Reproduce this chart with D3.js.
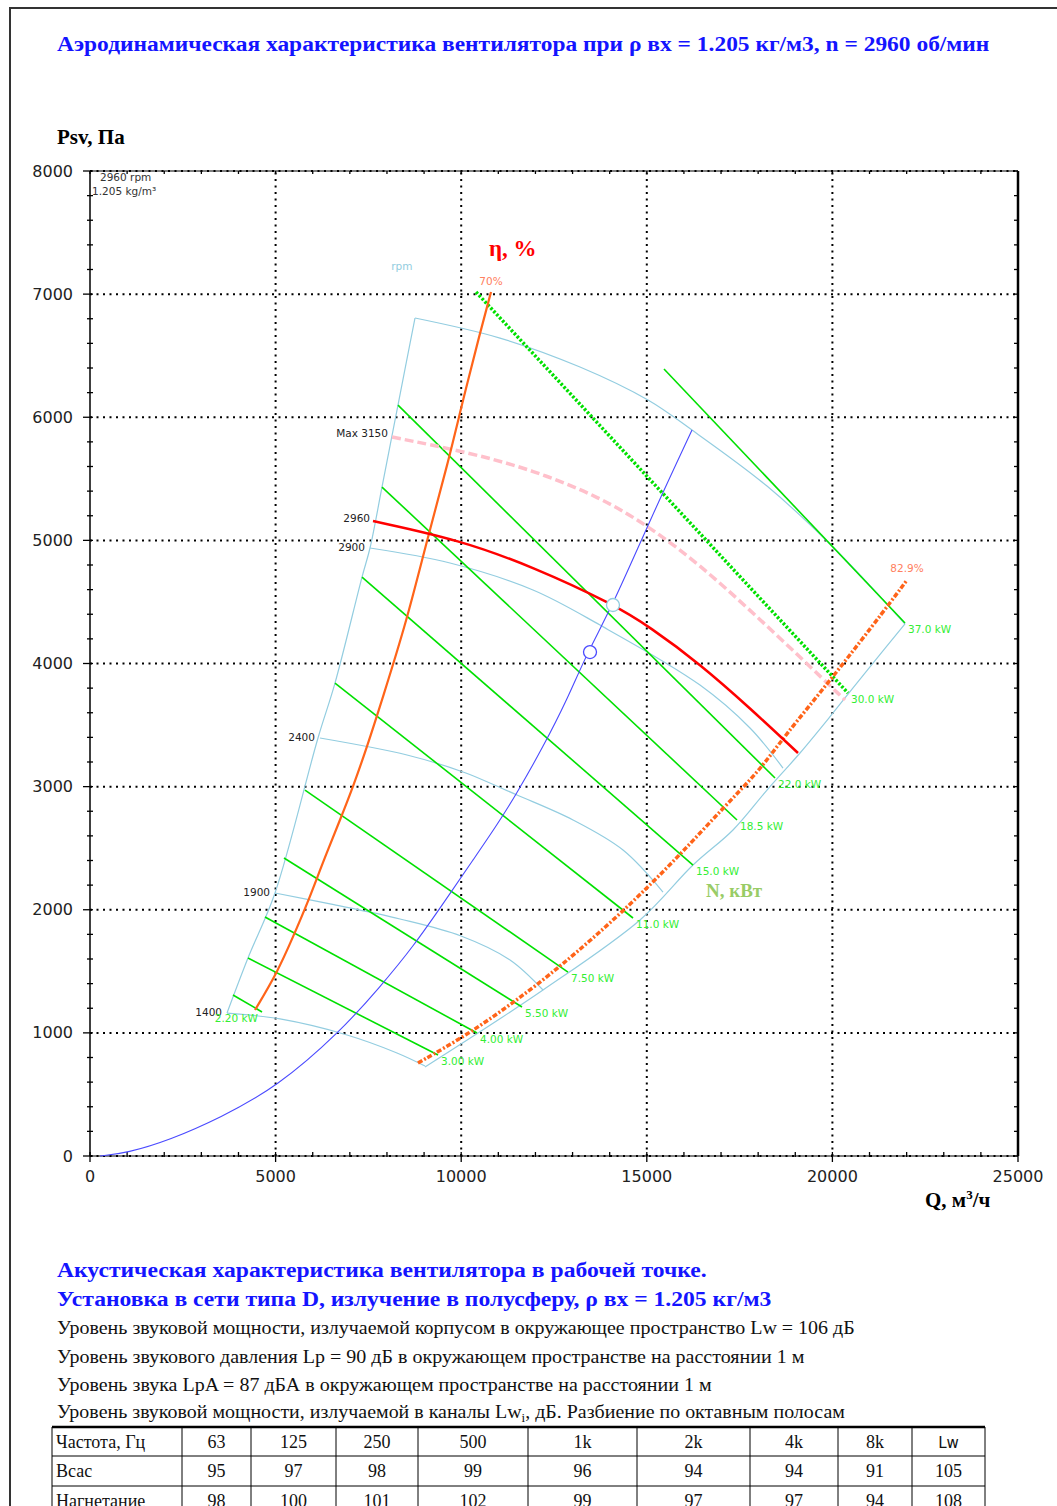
<!DOCTYPE html>
<html>
<head>
<meta charset="utf-8">
<script src="https://cdn.jsdelivr.net/npm/d3@7"></script>
<style>
  body { margin: 0; background: #fff; }
  svg { display: block; }
</style>
</head>
<body>
<svg id="chart" width="1057" height="1506"></svg>
<script>
// ---- data (Q in m3/h, P in Pa) ----
const xTicks = [0, 5000, 10000, 15000, 20000, 25000];
const yTicks = [0, 1000, 2000, 3000, 4000, 5000, 6000, 7000, 8000];

// light blue rpm curves
const rpm1400 = [[3691, 1161], [5119, 1113], [6923, 983], [8270, 837], [9025, 731]];
const rpm1900 = [[4984, 2136], [6466, 2047], [8351, 1925], [9995, 1787], [11315, 1592], [12204, 1348]];
const rpm2400 = [[6196, 3395], [8540, 3257], [10048, 3119], [11503, 2932], [13012, 2729], [14359, 2485], [15436, 2144]];
const rpm2900 = [[7543, 4938], [9698, 4816], [11934, 4597], [13739, 4312], [16433, 3825], [17780, 3476], [18669, 3151]];
const rpm3400 = [[8755, 6806], [11045, 6643], [13200, 6408], [15032, 6140], [16218, 5896], [18238, 5441], [20016, 4946], [21956, 4321]];
const rpmLabels = ["1400", "1900", "2400", "2900", ""];

// envelope side boundaries
const leftBound = [[3691, 1161], [4256, 1608], [4984, 2136], [6142, 3395], [6600, 3841], [7328, 4702], [7543, 4938], [7866, 5433], [8297, 6099], [8755, 6806]];
const rightBound = [[21956, 4321], [21094, 4004], [20016, 3598], [19127, 3273], [18238, 2972], [17322, 2648], [16245, 2363], [14817, 1917], [12204, 1348], [9025, 723]];

// working speed and max speed
const rpm2960 = [[7624, 5157], [9968, 5003], [11934, 4784], [14089, 4483], [15086, 4296], [16433, 3996], [17780, 3638], [19073, 3273]];
const rpmMax = [[8136, 5839], [10156, 5718], [11934, 5571], [13739, 5352], [15086, 5108], [16433, 4800], [17780, 4434], [19127, 4053], [20340, 3703]];

// efficiency lines
const eta70 = [[4445, 1186], [5038, 1486], [5469, 1779], [5873, 2063], [6277, 2388], [6735, 2729], [7085, 2997], [7462, 3322], [7866, 3703], [8540, 4353], [9079, 5003], [9644, 5628], [10048, 6140], [10506, 6684], [10803, 7017]];
const eta829 = [[8836, 755], [10156, 983], [11395, 1243], [12662, 1535], [14359, 1982], [15894, 2445], [17053, 2826], [18050, 3135], [18669, 3395], [20016, 3890], [21471, 4459], [22010, 4678]];

// system curve and operating points
const systemCurve = [[269, 0], [997, 24], [2155, 130], [3502, 309], [5038, 560], [6735, 1007], [7813, 1373], [8702, 1697], [9617, 2095], [10318, 2404], [10964, 2688], [11503, 2948], [12204, 3322], [12850, 3703], [13389, 4085], [14089, 4475], [15086, 5165], [16218, 5896]];
const workPoint = [14089, 4475];
const reqPoint = [13470, 4093];

// motor power lines
const powerLabels = ["2.20 kW", "3.00 kW", "4.00 kW", "5.50 kW", "7.50 kW", "11.0 kW", "15.0 kW", "18.5 kW", "22.0 kW", "30.0 kW", "37.0 kW"];
const powerLines = [
  [[3852, 1308], [4634, 1170]],
  [[4256, 1608], [9375, 820]],
  [[4714, 1941], [10426, 999]],
  [[5226, 2420], [11638, 1210]],
  [[5792, 2972], [12877, 1494]],
  [[6600, 3841], [14628, 1933]],
  [[7328, 4702], [16245, 2363]],
  [[7866, 5433], [17430, 2729]],
  [[8297, 6099], [18454, 3070]],
  [[10399, 7017], [20420, 3760]],
  [[15463, 6392], [21956, 4329]]
];

// acoustic table
const freqHeader = ["Частота, Гц", "63", "125", "250", "500", "1k", "2k", "4k", "8k", "Lw"];
const suctionRow = ["Всас", "95", "97", "98", "99", "96", "94", "94", "91", "105"];
const dischargeRow = ["Нагнетание", "98", "100", "101", "102", "99", "97", "97", "94", "108"];

// ---- drawing ----
const svg = d3.select("#chart");
const SERIF = "'Liberation Serif', 'Times New Roman', serif";
const SANS = "'DejaVu Sans', Verdana, sans-serif";

const x = d3.scaleLinear().domain([0, 25000]).range([90, 1018]);
const y = d3.scaleLinear().domain([0, 8000]).range([1156, 171]);

// page frame
svg.append("path")
  .attr("d", "M10,1506 L10,8 L1057,8")
  .attr("fill", "none").attr("stroke", "#333").attr("stroke-width", 2);

// text squeezed to the width seen in the picture
function fitText(txt, px, py, width, size, weight, color, sub) {
  const t = svg.append("text")
    .attr("font-family", SERIF).attr("font-size", size)
    .attr("font-weight", weight).attr("fill", color);
  t.append("tspan").text(txt);
  if (sub) {
    t.append("tspan").attr("font-size", size * 0.65).attr("dy", 4).text(sub.s);
    t.append("tspan").attr("dy", -4).text(sub.rest);
  }
  const len = t.node().getComputedTextLength();
  t.attr("transform", `translate(${px},${py}) scale(${width / len},1)`);
  return t;
}

fitText("Аэродинамическая характеристика вентилятора при ρ вх = 1.205 кг/м3, n = 2960 об/мин", 57, 51, 933, 21, "bold", "#1414ff");

// grid
const grid = svg.append("g").attr("stroke", "#000").attr("stroke-width", 2).attr("stroke-dasharray", "2,4.5");
grid.selectAll(".gx").data(xTicks.slice(1, -1)).enter().append("line")
  .attr("x1", d => x(d)).attr("x2", d => x(d)).attr("y1", y(0)).attr("y2", y(8000));
grid.selectAll(".gy").data(yTicks).enter().append("line")
  .attr("x1", x(0)).attr("x2", x(25000)).attr("y1", d => y(d)).attr("y2", d => y(d));

// frame of plot
svg.append("line").attr("x1", x(0)).attr("x2", x(0)).attr("y1", y(0)).attr("y2", y(8000))
  .attr("stroke", "#000").attr("stroke-width", 1.5);
svg.append("line").attr("x1", x(0)).attr("x2", x(25000)).attr("y1", y(0)).attr("y2", y(0))
  .attr("stroke", "#000").attr("stroke-width", 1.2);
svg.append("line").attr("x1", x(0)).attr("x2", x(25000)).attr("y1", y(8000)).attr("y2", y(8000))
  .attr("stroke", "#000").attr("stroke-width", 1.2);
svg.append("line").attr("x1", x(25000)).attr("x2", x(25000)).attr("y1", y(0)).attr("y2", y(8000))
  .attr("stroke", "#000").attr("stroke-width", 2.5);

// minor ticks
const ticks = svg.append("g").attr("stroke", "#000").attr("stroke-width", 1.3);
const pMinor = d3.range(0, 8001, 200);
const qMinor = d3.range(0, 25001, 1000);
ticks.selectAll(".tl").data(pMinor).enter().append("line")
  .attr("x1", d => x(0) - (d % 1000 === 0 ? 7 : 3)).attr("x2", x(0) + 3)
  .attr("y1", d => y(d)).attr("y2", d => y(d));
ticks.selectAll(".tr").data(pMinor).enter().append("line")
  .attr("x1", x(25000) - 4).attr("x2", x(25000))
  .attr("y1", d => y(d)).attr("y2", d => y(d));
ticks.selectAll(".tb").data(qMinor).enter().append("line")
  .attr("x1", d => x(d)).attr("x2", d => x(d))
  .attr("y1", y(0) - 4).attr("y2", d => y(0) + (d % 5000 === 0 ? 6 : 1));
ticks.selectAll(".tt").data(qMinor).enter().append("line")
  .attr("x1", d => x(d)).attr("x2", d => x(d))
  .attr("y1", y(8000)).attr("y2", y(8000) + 3);

// tick labels
svg.selectAll(".yl").data(yTicks).enter().append("text")
  .attr("x", 73).attr("y", d => y(d) + 5.5).attr("text-anchor", "end")
  .attr("font-family", SANS).attr("font-size", 16).attr("fill", "#222")
  .text(d => d);
svg.selectAll(".xl").data(xTicks).enter().append("text")
  .attr("x", d => x(d)).attr("y", 1182).attr("text-anchor", "middle")
  .attr("font-family", SANS).attr("font-size", 16).attr("fill", "#222")
  .text(d => d);

// axis titles
svg.append("text").attr("x", 57).attr("y", 144)
  .attr("font-family", SERIF).attr("font-weight", "bold").attr("font-size", 21)
  .text("Psv, Па");
const qt = svg.append("text").attr("x", 925).attr("y", 1207)
  .attr("font-family", SERIF).attr("font-weight", "bold").attr("font-size", 21);
qt.append("tspan").text("Q, м");
qt.append("tspan").attr("font-size", 13).attr("dy", -8).text("3");
qt.append("tspan").attr("dy", 8).text("/ч");

const line = d3.line().x(d => x(d[0])).y(d => y(d[1])).curve(d3.curveCatmullRom);
const smooth = d3.line().x(d => x(d[0])).y(d => y(d[1])).curve(d3.curveBasis);

// envelope and rpm curves
const env = svg.append("g").attr("fill", "none").attr("stroke", "#93cde0").attr("stroke-width", 1.2);
[leftBound, rightBound].forEach(c => env.append("path").attr("d", line(c)));
const rpmCurves = [rpm1400, rpm1900, rpm2400, rpm2900, rpm3400];
rpmCurves.forEach(c => env.append("path").attr("d", line(c)));

svg.selectAll(".rl").data(rpmCurves).enter().append("text")
  .attr("x", d => x(d[0][0]) - 5).attr("y", d => y(d[0][1]) + 3)
  .attr("text-anchor", "end").attr("font-family", SANS).attr("font-size", 10.5).attr("fill", "#222")
  .text((d, i) => rpmLabels[i]);
svg.append("text").attr("x", x(8400)).attr("y", y(7230) + 4).attr("text-anchor", "middle")
  .attr("font-family", SANS).attr("font-size", 10.5).attr("fill", "#93cde0").text("rpm");

// power lines
svg.selectAll(".pw").data(powerLines).enter().append("path")
  .attr("d", d => line(d)).attr("fill", "none").attr("stroke", "#00e000")
  .attr("stroke-width", (d, i) => i === 9 ? 3.5 : 1.6)
  .attr("stroke-dasharray", (d, i) => i === 9 ? "2.5,1.8" : null);
svg.selectAll(".pl").data(powerLines).enter().append("text")
  .attr("x", (d, i) => x(d[1][0]) + (i === 0 ? -4 : 3))
  .attr("y", d => y(d[1][1]) + 10)
  .attr("text-anchor", (d, i) => i === 0 ? "end" : "start")
  .attr("font-family", SANS).attr("font-size", 10.5).attr("fill", "#33ee33")
  .text((d, i) => powerLabels[i]);

// max speed
svg.append("path").attr("d", smooth(rpmMax)).attr("fill", "none")
  .attr("stroke", "#ffc0cb").attr("stroke-width", 3.5).attr("stroke-dasharray", "9,4");
svg.append("text").attr("x", x(rpmMax[0][0]) - 4).attr("y", y(rpmMax[0][1]))
  .attr("text-anchor", "end").attr("font-family", SANS).attr("font-size", 10.5).attr("fill", "#222")
  .text("Max 3150");

// efficiency
svg.append("path").attr("d", smooth(eta70)).attr("fill", "none")
  .attr("stroke", "#ff6419").attr("stroke-width", 2.2);
svg.append("path").attr("d", smooth(eta829)).attr("fill", "none")
  .attr("stroke", "#ff6419").attr("stroke-width", 3.5).attr("stroke-dasharray", "5,2,2,2");
svg.append("text").attr("x", x(eta70[eta70.length - 1][0])).attr("y", y(eta70[eta70.length - 1][1]) - 7)
  .attr("text-anchor", "middle").attr("font-family", SANS).attr("font-size", 10.5).attr("fill", "#ff8060")
  .text("70%");
svg.append("text").attr("x", x(eta829[eta829.length - 1][0])).attr("y", y(eta829[eta829.length - 1][1]) - 8)
  .attr("text-anchor", "middle").attr("font-family", SANS).attr("font-size", 10.5).attr("fill", "#ff8060")
  .text("82.9%");

// working speed
svg.append("path").attr("d", smooth(rpm2960)).attr("fill", "none")
  .attr("stroke", "#ff0000").attr("stroke-width", 2.5);
svg.append("text").attr("x", x(rpm2960[0][0]) - 3).attr("y", y(rpm2960[0][1]) + 1)
  .attr("text-anchor", "end").attr("font-family", SANS).attr("font-size", 10.5).attr("fill", "#222")
  .text("2960");

// system curve and points
svg.append("path").attr("d", smooth(systemCurve)).attr("fill", "none")
  .attr("stroke", "#4a4aff").attr("stroke-width", 1.1);
svg.append("circle").attr("cx", x(workPoint[0])).attr("cy", y(workPoint[1])).attr("r", 6.5)
  .attr("fill", "#fff").attr("stroke", "#93cde0").attr("stroke-width", 1.3);
svg.append("circle").attr("cx", x(reqPoint[0])).attr("cy", y(reqPoint[1])).attr("r", 6.5)
  .attr("fill", "#fff").attr("stroke", "#4a4aff").attr("stroke-width", 1.3);

// corner notes and series titles
svg.append("text").attr("x", 100).attr("y", 181).attr("font-family", SANS).attr("font-size", 10.5)
  .attr("fill", "#333").text("2960 rpm");
svg.append("text").attr("x", 92).attr("y", 195).attr("font-family", SANS).attr("font-size", 10.5)
  .attr("fill", "#333").text("1.205 kg/m³");
svg.append("text").attr("x", 489).attr("y", 256).attr("font-family", SERIF).attr("font-weight", "bold")
  .attr("font-size", 23).attr("fill", "#ff0000").text("η, %");
svg.append("text").attr("x", 706).attr("y", 897).attr("font-family", SERIF).attr("font-weight", "bold")
  .attr("font-size", 19).attr("fill", "#99cc66").text("N, кВт");

// acoustic block
fitText("Акустическая характеристика вентилятора в рабочей точке.", 57, 1277, 650, 21, "bold", "#1414ff");
fitText("Установка в сети типа D, излучение в полусферу, ρ вх = 1.205 кг/м3", 57, 1306, 715, 21, "bold", "#1414ff");
fitText("Уровень звуковой мощности, излучаемой корпусом в окружающее пространство Lw = 106 дБ", 57, 1334, 798, 18, "normal", "#111");
fitText("Уровень звукового давления Lp = 90 дБ в окружающем пространстве на расстоянии 1 м", 57, 1363, 748, 18, "normal", "#111");
fitText("Уровень звука LpA = 87 дБА в окружающем пространстве на расстоянии 1 м", 57, 1391, 655, 18, "normal", "#111");
fitText("Уровень звуковой мощности, излучаемой в каналы Lw", 57, 1418, 788, 18, "normal", "#111",
  { s: "i", rest: ", дБ. Разбиение по октавным полосам" });

// table
const colEdges = [52, 182, 251, 336, 418, 528, 637, 750, 838, 912, 985];
const rowEdges = [1427, 1456, 1486, 1520];
const rows = [freqHeader, suctionRow, dischargeRow];
const tbl = svg.append("g").attr("stroke", "#000").attr("stroke-width", 1);
tbl.selectAll(".cv").data(colEdges).enter().append("line")
  .attr("x1", d => d).attr("x2", d => d).attr("y1", rowEdges[0]).attr("y2", 1506);
tbl.selectAll(".rh").data(rowEdges.slice(0, 3)).enter().append("line")
  .attr("x1", colEdges[0]).attr("x2", colEdges[colEdges.length - 1])
  .attr("y1", d => d).attr("y2", d => d)
  .attr("stroke-width", (d, i) => i === 0 ? 2.5 : 1);
rows.forEach((r, ri) => {
  svg.selectAll(".c" + ri).data(r).enter().append("text")
    .attr("x", (d, i) => i === 0 ? colEdges[0] + 4 : (colEdges[i] + colEdges[i + 1]) / 2)
    .attr("y", rowEdges[ri] + 21)
    .attr("text-anchor", (d, i) => i === 0 ? "start" : "middle")
    .attr("font-family", (d, i) => (ri === 0 && i === 9) ? SANS : SERIF)
    .attr("font-size", (d, i) => (ri === 0 && i === 9) ? 15 : 18)
    .attr("fill", "#111")
    .text(d => d);
});
</script>
</body>
</html>
